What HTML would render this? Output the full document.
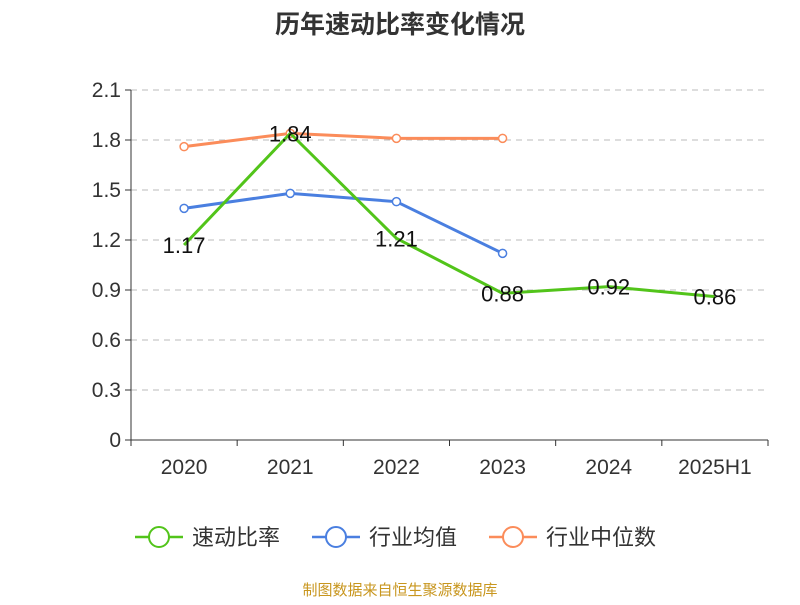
<!DOCTYPE html>
<html><head><meta charset="utf-8"><style>
body{margin:0;background:#fff;font-family:"Liberation Sans","Noto Sans CJK SC",sans-serif}
</style></head><body>
<svg id="chart" width="800" height="600" xmlns="http://www.w3.org/2000/svg">
<text x="400" y="33" text-anchor="middle" font-size="25" font-weight="bold" fill="#333" font-family="Liberation Sans,Noto Sans CJK SC,sans-serif">历年速动比率变化情况</text>
<g id="grid"></g><g id="axes"></g><g id="series"></g>
<g font-size="22" fill="#333" font-family="Liberation Sans,Noto Sans CJK SC,sans-serif">
<g><line x1="135" y1="537" x2="183" y2="537" stroke="#52c41a" stroke-width="2.5"/><circle cx="159" cy="537" r="10" fill="#fff" stroke="#52c41a" stroke-width="2"/><text x="192" y="545">速动比率</text></g>
<g><line x1="312" y1="537" x2="360" y2="537" stroke="#4a7fe0" stroke-width="2.5"/><circle cx="336" cy="537" r="10" fill="#fff" stroke="#4a7fe0" stroke-width="2"/><text x="369" y="545">行业均值</text></g>
<g><line x1="489" y1="537" x2="537" y2="537" stroke="#fb8c5a" stroke-width="2.5"/><circle cx="513" cy="537" r="10" fill="#fff" stroke="#fb8c5a" stroke-width="2"/><text x="546" y="545">行业中位数</text></g>
</g>
<text x="400" y="595" text-anchor="middle" font-size="15" fill="#c8961e" font-family="Liberation Sans,Noto Sans CJK SC,sans-serif">制图数据来自恒生聚源数据库</text>
</svg>
<script>
const categories=["2020","2021","2022","2023","2024","2025H1"];
const quickRatio=[1.17,1.84,1.21,0.88,0.92,0.86];
const industryAvg=[1.39,1.48,1.43,1.12];
const industryMedian=[1.76,1.84,1.81,1.81];
const yTicks=[0,0.3,0.6,0.9,1.2,1.5,1.8,2.1];
const yTickLabels=["0","0.3","0.6","0.9","1.2","1.5","1.8","2.1"];
const NS="http://www.w3.org/2000/svg";
const x0=131,x1=768,y0=440,y1=90,yMax=2.1;
const band=(x1-x0)/categories.length;
const xs=i=>x0+band*(i+0.5);
const ys=v=>y0-(v/yMax)*(y0-y1);
function mk(tag,attrs,parent){const e=document.createElementNS(NS,tag);for(const k in attrs)e.setAttribute(k,attrs[k]);parent.appendChild(e);return e;}
const grid=document.getElementById('grid'),axes=document.getElementById('axes'),ser=document.getElementById('series');
yTicks.forEach((t,i)=>{
  const y=ys(t);
  if(t>0){const l=mk('line',{x1:x0,x2:x1,y1:y,y2:y,stroke:'#bbb','stroke-dasharray':'6,5'},grid);
  
  }
  mk('line',{x1:x0-6,x2:x0,y1:y,y2:y,stroke:'#333'},axes);
  const tx=mk('text',{x:x0-10,y:y+7,'text-anchor':'end','font-size':21,fill:'#333'},axes);
  tx.textContent=yTickLabels[i];
  
  
});
mk('line',{x1:x0,x2:x0,y1:y1,y2:y0,stroke:'#333'},axes);
mk('line',{x1:x0,x2:x1,y1:y0,y2:y0,stroke:'#333'},axes);
for(let i=0;i<=categories.length;i++){mk('line',{x1:x0+band*i,x2:x0+band*i,y1:y0,y2:y0+6,stroke:'#333'},axes);}
categories.forEach((c,i)=>{
  const tx=mk('text',{x:xs(i),y:474,'text-anchor':'middle','font-size':21,fill:'#333'},axes);
  tx.textContent=c;
  
  
});
function line(data,color,name,labels,markers){
  const p=mk('polyline',{points:data.map((v,i)=>xs(i)+','+ys(v)).join(' '),fill:'none',stroke:color,'stroke-width':3},ser);
  
  
  data.forEach((v,i)=>{
    if(markers){const c=mk('circle',{cx:xs(i),cy:ys(v),r:4,fill:'#fff',stroke:color,'stroke-width':1.5},ser);
    
    }
    if(labels){const t=mk('text',{x:xs(i),y:ys(v)+8,'text-anchor':'middle','font-size':22,fill:'#111'},ser);
    t.textContent=v.toFixed(2);
    
    }
  });
}
line(industryMedian,'#fb8c5a','industry-median',false,true);
line(industryAvg,'#4a7fe0','industry-average',false,true);
line(quickRatio,'#52c41a','quick-ratio',true,false);
</script>
</body></html>
